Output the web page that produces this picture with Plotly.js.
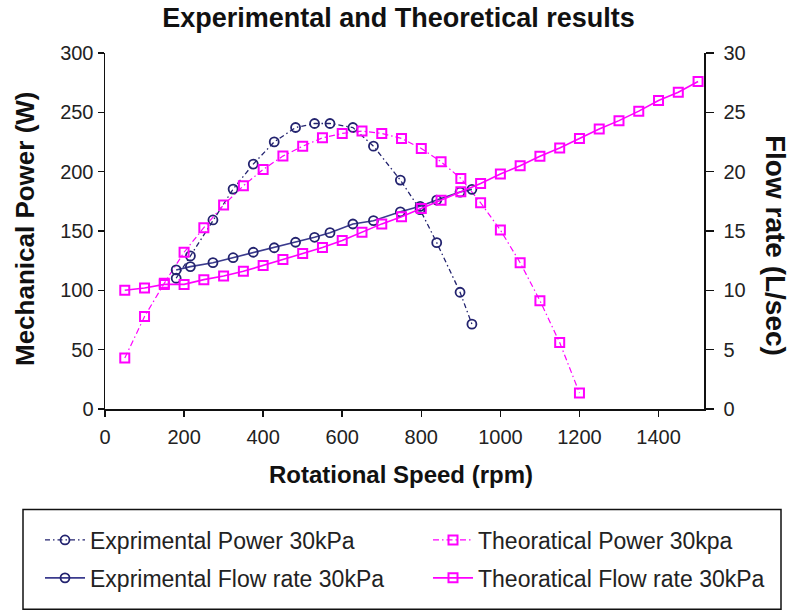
<!DOCTYPE html>
<html>
<head>
<meta charset="utf-8">
<script src="https://cdn.plot.ly/plotly-3.0.1.min.js"></script>
<style>html,body{margin:0;padding:0;background:#fff;}#chart{width:790px;height:613px;}</style>
</head>
<body>
<div id="chart"></div>
<script>
// ---- data ----
const theoSpeed = [50,100,150,200,250,300,350,400,450,500,550,600,650,700,750,800,850,900,950,1000,1050,1100,1150,1200,1250,1300,1350,1400,1450,1500];
const theoFlow = [10.0,10.2,10.5,10.5,10.9,11.2,11.6,12.1,12.6,13.1,13.6,14.2,14.9,15.6,16.2,16.9,17.6,18.3,19.0,19.8,20.5,21.3,22.0,22.8,23.6,24.3,25.1,26.0,26.7,27.6];
const theoPowerSpeed = [50,100,150,200,250,300,350,400,450,500,550,600,650,700,750,800,850,900,950,1000,1050,1100,1150,1200];
const theoPower = [42.9,77.9,106.0,132.1,152.8,171.9,188.1,201.9,213.1,221.5,228.5,232.2,234.2,232.2,228.0,219.6,208.3,194.3,173.8,150.8,123.3,91.3,56.0,13.5];
const expSpeed = [180,216,273,324,375,428,482,530,569,627,679,747,797,839,898,928];
const expPower = [110.2,129.0,159.3,185.3,206.4,225.1,237.2,240.6,240.6,237.2,221.5,192.9,168.0,140.2,98.4,71.5];
const expFlow = [11.72,12.0,12.33,12.75,13.21,13.59,14.05,14.47,14.86,15.59,15.87,16.62,17.08,17.61,18.28,18.51];
const xTicks = [0,200,400,600,800,1000,1200,1400];
const yTicks = [0,50,100,150,200,250,300];
const y2Ticks = [0,5,10,15,20,25,30];
const names = ['Exprimental Power 30kPa','Theoratical Power 30kpa','Exprimental Flow rate 30kPa','Theoratical Flow rate 30kPa'];

const NAVY = '#23236f';
const NAVY_LINE = '#3b3b8e';
const MAG = '#ff00ff';
const FONT = 'Liberation Sans, Arial, sans-serif';

const traces = [
  {x: expSpeed, y: expPower, name: names[0], type: 'scatter', mode: 'lines+markers', yaxis: 'y',
   legend: 'legend', legendgroup: 'a',
   line: {color: NAVY, width: 1.3, dash: '5px,3px,1.5px,3px'},
   marker: {symbol: 'circle-open', size: 9, color: NAVY, line: {width: 1.8, color: NAVY}}},
  {x: expSpeed, y: expFlow, name: names[2], type: 'scatter', mode: 'lines+markers', yaxis: 'y2',
   legend: 'legend', legendgroup: 'b',
   line: {color: NAVY_LINE, width: 1.6},
   marker: {symbol: 'circle-open', size: 9, color: NAVY, line: {width: 1.8, color: NAVY}}},
  {x: theoPowerSpeed, y: theoPower, name: names[1], type: 'scatter', mode: 'lines+markers', yaxis: 'y',
   legend: 'legend2', legendgroup: 'c',
   line: {color: MAG, width: 1.2, dash: '6px,3px,1.5px,3px'},
   marker: {symbol: 'square-open', size: 9, color: MAG, line: {width: 2, color: MAG}}},
  {x: theoSpeed, y: theoFlow, name: names[3], type: 'scatter', mode: 'lines+markers', yaxis: 'y2',
   legend: 'legend2', legendgroup: 'd',
   line: {color: MAG, width: 1.6},
   marker: {symbol: 'square-open', size: 9, color: MAG, line: {width: 2, color: MAG}}}
];

const L = 105, R = 704, T = 52.7, B = 409.3;
const W = R - L, H = B - T;
const px = v => (v - L) / W;
const py = v => (B - v) / H;

const axisCommon = {
  showgrid: false, zeroline: false, showline: true, linecolor: '#111', linewidth: 1.5,
  ticks: 'outside', ticklen: 6, tickwidth: 1.5, tickcolor: '#111',
  tickfont: {family: FONT, size: 20, color: '#222'}
};

const legendFont = {family: FONT, size: 23, color: '#222'};

const layout = {
  width: 790, height: 613,
  margin: {l: L, r: 790 - R, t: T, b: 613 - B, pad: 0},
  paper_bgcolor: '#fff', plot_bgcolor: '#fff',
  showlegend: true,
  title: {text: 'Experimental and Theoretical results', font: {family: FONT, size: 27, color: '#111', weight: 'bold'},
          x: 398.5/790, xref: 'container', xanchor: 'center', y: 1 - 18/613, yref: 'container', yanchor: 'middle'},
  xaxis: Object.assign({}, axisCommon, {range: [0, 1515], tickvals: xTicks, ticktext: xTicks.map(String), ticklabelstandoff: 3}),
  yaxis: Object.assign({}, axisCommon, {range: [0, 300], tickvals: yTicks, ticktext: yTicks.map(String)}),
  yaxis2: Object.assign({}, axisCommon, {range: [0, 30], tickvals: y2Ticks, ticktext: y2Ticks.map(String),
           overlaying: 'y', side: 'right', ticklen: 8, ticklabelstandoff: 6}),
  legend: {x: px(40), y: py(519), xanchor: 'left', yanchor: 'top', orientation: 'v',
           bgcolor: 'rgba(0,0,0,0)', borderwidth: 0, itemwidth: 40, tracegroupgap: 5, font: legendFont},
  legend2: {x: px(428), y: py(519), xanchor: 'left', yanchor: 'top', orientation: 'v',
           bgcolor: 'rgba(0,0,0,0)', borderwidth: 0, itemwidth: 40, tracegroupgap: 5, font: legendFont},
  shapes: [
    {type: 'rect', xref: 'paper', yref: 'paper', x0: px(23), x1: px(781), y0: py(610), y1: py(510),
     line: {color: '#111', width: 1.5}, fillcolor: 'rgba(0,0,0,0)', layer: 'below'}
  ],
  annotations: [
    {text: 'Rotational Speed (rpm)', xref: 'paper', yref: 'paper', x: px(401), y: py(475),
     xanchor: 'center', yanchor: 'middle', showarrow: false,
     font: {family: FONT, size: 24, color: '#111', weight: 'bold'}},
    {text: 'Mechanical Power (W)', xref: 'paper', yref: 'paper', x: px(25), y: py(229), textangle: -90,
     xanchor: 'center', yanchor: 'middle', showarrow: false,
     font: {family: FONT, size: 26, color: '#111', weight: 'bold'}},
    {text: 'Flow rate (L/sec)', xref: 'paper', yref: 'paper', x: px(775), y: py(245), textangle: 90,
     xanchor: 'center', yanchor: 'middle', showarrow: false,
     font: {family: FONT, size: 28, color: '#111', weight: 'bold'}}
  ]
};

Plotly.newPlot('chart', traces, layout, {staticPlot: true, displayModeBar: false});
</script>
</body>
</html>
